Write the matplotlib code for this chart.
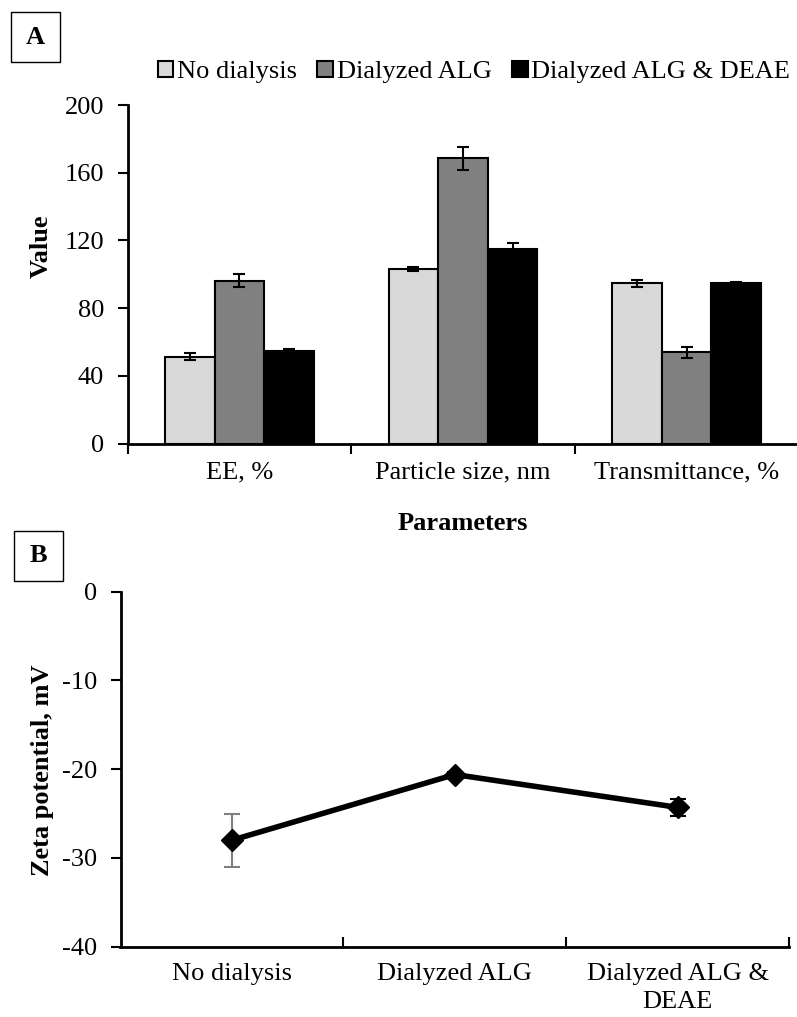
import matplotlib.pyplot as plt
from matplotlib.patches import Rectangle, Patch

plt.rcParams['font.family'] = ['Liberation Serif', 'DejaVu Serif']
plt.rcParams['font.size'] = 19
plt.rcParams['axes.unicode_minus'] = False

# panel A data
params = ['EE, %', 'Particle size, nm', 'Transmittance, %']
groups = ['No dialysis', 'Dialyzed ALG', 'Dialyzed ALG & DEAE']
no_dial = [51.2, 103.2, 94.6]
no_dial_err = [2.0, 1.0, 2.2]
dial_alg = [96.3, 168.4, 53.8]
dial_alg_err = [4.0, 7.0, 3.0]
dial_deae = [54.5, 114.8, 94.6]
dial_deae_err = [1.5, 3.5, 1.0]
bar_colors = ['#d9d9d9', '#808080', '#000000']

# panel B data
samples = ['No dialysis', 'Dialyzed ALG', 'Dialyzed ALG &\nDEAE']
zeta = [-28.0, -20.6, -24.3]
zeta_err = [3.0, 0.3, 0.95]
zeta_err_colors = ['#7f7f7f', '#000000', '#000000']

W, H = 797, 1017
fig = plt.figure(figsize=(W / 100, H / 100), dpi=100)

# ---- A ----
ax1 = fig.add_axes([127.5 / W, 1 - 443.5 / H, (798.5 - 127.5) / W, (443.5 - 105) / H])
width = 0.222
x = list(range(len(params)))
series = [(no_dial, no_dial_err), (dial_alg, dial_alg_err), (dial_deae, dial_deae_err)]
for i, (vals, errs) in enumerate(series):
    xs = [xi + (i - 1) * width for xi in x]
    ax1.bar(xs, vals, width, color=bar_colors[i], edgecolor='black', linewidth=1.5,
            label=groups[i], zorder=2)
    ax1.errorbar(xs, vals, yerr=errs, fmt='none', ecolor='black', elinewidth=1.5,
                 capsize=4.5, capthick=1.5, zorder=3)
ax1.set_xlim(-0.5, 2.5)
ax1.set_ylim(0, 200)
ax1.set_yticks([0, 40, 80, 120, 160, 200])
ax1.set_xticks(x)
ax1.set_xticklabels(params)
ax1.set_xticks([-0.5, 0.5, 1.5, 2.5], minor=True)
ax1.tick_params(axis='x', which='major', length=0, pad=13)
ax1.tick_params(axis='x', which='minor', direction='out', length=7, width=1.5)
ax1.tick_params(axis='y', direction='out', length=7, width=1.5, pad=10)
for s in ['top', 'right']:
    ax1.spines[s].set_visible(False)
for s in ['left', 'bottom']:
    ax1.spines[s].set_linewidth(2)

fig.text(41 / W, 1 - 246 / H, 'Value', rotation=90, ha='center', va='center',
         fontweight='bold')
fig.text(463 / W, 1 - 524 / H, 'Parameters', ha='center', va='center', fontweight='bold')

handles = [Patch(facecolor=c, edgecolor='black', linewidth=1.5) for c in bar_colors]
fig.legend(handles, groups, loc='center', bbox_to_anchor=(474 / W, 1 - 72 / H), ncol=3,
           frameon=False, handlelength=0.6, handleheight=0.6, handletextpad=0.15,
           columnspacing=0.75)

# ---- B ----
ax2 = fig.add_axes([120.5 / W, 1 - 946.7 / H, (789 - 120.5) / W, (946.7 - 591.7) / H])
xb = list(range(len(samples)))
ax2.plot(xb, zeta, color='black', linewidth=4, marker='D', markersize=11, zorder=3)
for i in xb:
    ax2.errorbar(xb[i], zeta[i], yerr=zeta_err[i], fmt='none', ecolor=zeta_err_colors[i],
                 elinewidth=1.5, capsize=6, capthick=1.5, zorder=2)
ax2.set_xlim(-0.5, 2.5)
ax2.set_ylim(-40, 0)
ax2.set_yticks([-40, -30, -20, -10, 0])
ax2.set_xticks(xb)
ax2.set_xticklabels(samples, linespacing=1.35)
ax2.set_xticks([0.5, 1.5, 2.5], minor=True)
ax2.tick_params(axis='x', which='major', length=0, pad=12)
ax2.tick_params(axis='x', which='minor', direction='in', length=7, width=1.5)
ax2.tick_params(axis='y', direction='out', length=7, width=1.5, pad=10)
for s in ['top', 'right']:
    ax2.spines[s].set_visible(False)
for s in ['left', 'bottom']:
    ax2.spines[s].set_linewidth(2)

fig.text(43 / W, 1 - 770 / H, 'Zeta potential, mV', rotation=90, ha='center',
         va='center', fontweight='bold')

# panel letters in boxes
for label, (bx, by) in [('A', (11, 12)), ('B', (14, 531))]:
    fig.patches.append(Rectangle((bx / W, 1 - (by + 50) / H), 49 / W, 50 / H,
                                 transform=fig.transFigure, fill=False,
                                 edgecolor='black', linewidth=1))
    fig.text((bx + 24.5) / W, 1 - (by + 25) / H, label, ha='center', va='center',
             fontweight='bold')

plt.savefig('out.png', dpi=100)
